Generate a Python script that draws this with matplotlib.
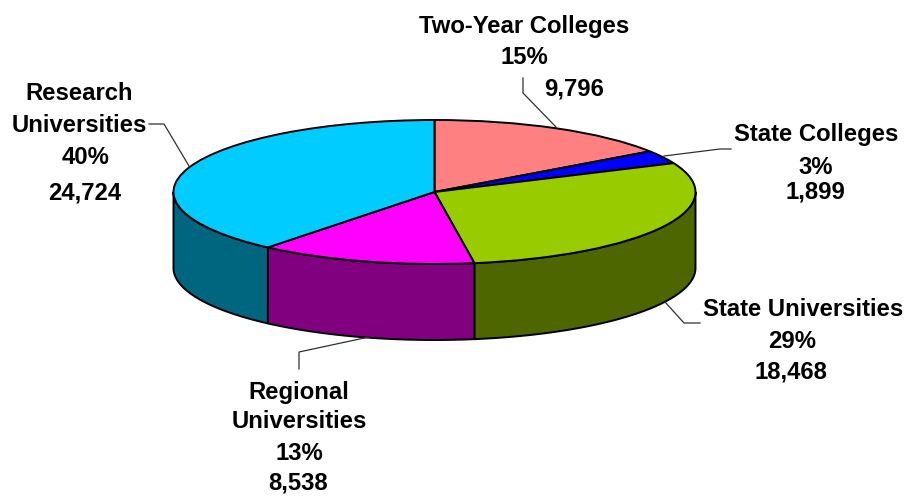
import numpy as np
import matplotlib
matplotlib.use("Agg")
import matplotlib.pyplot as plt

plt.rcParams['font.family'] = ['Liberation Sans', 'DejaVu Sans']

categories = ["Two-Year Colleges", "State Colleges", "State Universities",
              "Regional Universities", "Research Universities"]
values = [9796, 1899, 18468, 8538, 24724]
percents = ["15%", "3%", "29%", "13%", "40%"]
value_labels = ["9,796", "1,899", "18,468", "8,538", "24,724"]
top_colors = ["#FF8080", "#0000FF", "#99CC00", "#FF00FF", "#00CCFF"]
side_colors = ["#804040", "#000080", "#4D6600", "#800080", "#006680"]

W, H = 907, 497
cx, cy, rx, ry, depth = 434.5, 192, 261, 72, 76

fig = plt.figure(figsize=(W / 100, H / 100), dpi=100)
ax = fig.add_axes([0, 0, 1, 1])
ax.set_xlim(0, W)
ax.set_ylim(H, 0)
ax.axis("off")

# side wall, only the front half of the ellipse shows
edges = np.cumsum([0] + values) / sum(values) * 2 * np.pi
for i in range(len(values)):
    a = max(edges[i], np.pi / 2)
    b = min(edges[i + 1], 3 * np.pi / 2)
    if b <= a:
        continue
    t = np.linspace(a, b, 80)
    x = cx + rx * np.sin(t)
    y = cy - ry * np.cos(t)
    ax.fill(np.r_[x, x[::-1]], np.r_[y, y[::-1] + depth],
            fc=side_colors[i], ec="black", lw=1.4, joinstyle="round")

# top face: ordinary pie squashed by the axes box
pie_ax = fig.add_axes([(cx - rx) / W, 1 - (cy + ry) / H, 2 * rx / W, 2 * ry / H])
pie_ax.patch.set_alpha(0)
pie_ax.pie(values, colors=top_colors, startangle=90, counterclock=False,
           wedgeprops=dict(edgecolor="black", linewidth=1.4))
pie_ax.set_aspect("auto")
pie_ax.set_xlim(-1, 1)
pie_ax.set_ylim(-1, 1)

# leader lines
leaders = [
    ([523, 523, 556], [78, 93, 127]),
    ([664, 720, 731], [156, 149, 149]),
    ([665, 684, 700], [302, 323, 323]),
    ([369, 299, 299], [337, 352, 369]),
    ([189, 164, 149], [166, 124, 124]),
]
for lx, ly in leaders:
    ax.plot(lx, ly, color="#303030", lw=0.9, zorder=1)

# label lines: x centre, y centre for name lines, percent, value
label_lines = [
    ([categories[0]], [(524.5, 26)], (524, 58), (574, 89)),
    ([categories[1]], [(816, 135)], (816, 167), (815, 192)),
    ([categories[2]], [(803, 310)], (792, 341), (791, 372)),
    (["Regional", "Universities"], [(299, 392), (299.5, 422)], (299, 454), (298.5, 483)),
    (["Research", "Universities"], [(79, 94), (79, 125)], (86, 158), (85, 193)),
]
for i, (names, name_pos, pct_pos, val_pos) in enumerate(label_lines):
    for s, (tx, ty) in zip(names, name_pos):
        ax.text(tx, ty, s, ha="center", va="center", fontsize=17.2, fontweight="bold")
    ax.text(*pct_pos, percents[i], ha="center", va="center", fontsize=17.2, fontweight="bold")
    ax.text(*val_pos, value_labels[i], ha="center", va="center", fontsize=17.2, fontweight="bold")

fig.savefig("out.png", dpi=100, facecolor="white")
